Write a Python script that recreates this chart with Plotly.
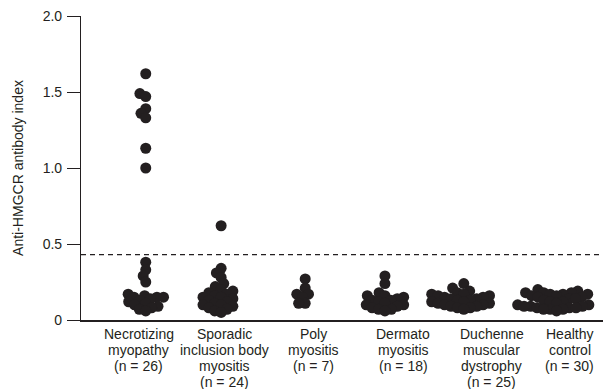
import math
import plotly.graph_objects as go

# ---- data ----
categories = [
    "Necrotizing<br>myopathy<br>(n = 26)",
    "Sporadic<br>inclusion body<br>myositis<br>(n = 24)",
    "Poly<br>myositis<br>(n = 7)",
    "Dermato<br>myositis<br>(n = 18)",
    "Duchenne<br>muscular<br>dystrophy<br>(n = 25)",
    "Healthy<br>control<br>(n = 30)",
]
necrotizing = [1.62, 1.49, 1.47, 1.39, 1.36, 1.33, 1.13, 1.00,
               0.38, 0.33, 0.29, 0.25,
               0.17, 0.16, 0.15, 0.15, 0.15, 0.14, 0.13, 0.12, 0.11, 0.10, 0.09, 0.08, 0.07, 0.06]
sporadic = [0.62, 0.34, 0.31, 0.28, 0.24, 0.22, 0.20, 0.19, 0.18, 0.17, 0.16, 0.15,
            0.15, 0.14, 0.13, 0.12, 0.11, 0.10, 0.10, 0.09, 0.08, 0.07, 0.06, 0.05]
poly = [0.27, 0.21, 0.17, 0.17, 0.15, 0.11, 0.11]
dermato = [0.29, 0.24, 0.18, 0.16, 0.16, 0.15, 0.14, 0.13, 0.13, 0.12, 0.11, 0.10,
           0.10, 0.09, 0.08, 0.07, 0.07, 0.06]
duchenne = [0.24, 0.21, 0.19, 0.18, 0.17, 0.17, 0.16, 0.16, 0.15, 0.15, 0.14, 0.14,
            0.13, 0.13, 0.12, 0.12, 0.11, 0.11, 0.10, 0.10, 0.09, 0.09, 0.08, 0.08, 0.07]
healthy = [0.20, 0.19, 0.18, 0.18, 0.18, 0.17, 0.17, 0.17, 0.16, 0.16, 0.15, 0.15,
           0.14, 0.14, 0.13, 0.12, 0.12, 0.11, 0.10, 0.10, 0.09, 0.09, 0.09, 0.08,
           0.08, 0.08, 0.07, 0.07, 0.07, 0.06]
groups = [necrotizing, sporadic, poly, dermato, duchenne, healthy]
cutoff = 0.43
y_ticks = [0, 0.5, 1.0, 1.5, 2.0]
y_tick_text = ["0", "0.5", "1.0", "1.5", "2.0"]

# ---- layout constants ----
W, H = 605, 389
ML, MR, MT, MB = 81, 2, 16, 69
label_pos = [0.0, 0.99, 2.02, 3.05, 4.07, 4.97]
cluster_pos = [0.08, 0.95, 1.92, 2.84, 3.75, 4.82]
x_range = [-0.667, 5.356]
y_range = [0, 2.0]
px_x = (W - ML - MR) / (x_range[1] - x_range[0])
px_y = (H - MT - MB) / (y_range[1] - y_range[0])
D = 6.6  # px spacing for swarm (dots overlap as in the reference)
LINE_H = 16  # px between category label lines
FIRST_LINE = 14  # px from axis to centre of first label line


def swarm(vals):
    order = sorted(range(len(vals)), key=lambda i: vals[i])
    placed = []
    offs = [0.0] * len(vals)
    for i in order:
        yi = vals[i] * px_y
        cands = [0.0]
        for (xj, yj) in placed:
            dy = yi - yj
            if abs(dy) < D:
                dx = math.sqrt(D * D - dy * dy)
                cands += [xj + dx, xj - dx]
        cands.sort(key=lambda c: (abs(c), c))
        for c in cands:
            if all((c - xj) ** 2 + (yi - yj) ** 2 >= D * D - 1e-6 for xj, yj in placed):
                placed.append((c, yi))
                offs[i] = c
                break
    return [o / px_x for o in offs]


fig = go.Figure()
for g, vals in enumerate(groups):
    offs = swarm(vals)
    fig.add_trace(go.Scatter(
        x=[cluster_pos[g] + o for o in offs], y=vals, mode="markers",
        marker=dict(size=11, color="#231f20", line=dict(width=0)),
        showlegend=False, hoverinfo="y"))

fig.add_shape(type="line", xref="paper", yref="y", x0=0, x1=1, y0=cutoff, y1=cutoff,
              line=dict(color="#231f20", width=1.2, dash="5px,4px"))

font = dict(family="Liberation Sans, Arial, sans-serif", size=14, color="#231f20")

# category labels, one annotation per line for tight line spacing
for pos, label in zip(label_pos, categories):
    for k, line in enumerate(label.split("<br>")):
        fig.add_annotation(x=pos, xref="x", y=0, yref="paper", text=line,
                           showarrow=False, xanchor="center", yanchor="middle",
                           yshift=-(FIRST_LINE + LINE_H * k), font=font)

fig.update_layout(
    width=W, height=H, margin=dict(l=ML, r=MR, t=MT, b=MB, autoexpand=False),
    paper_bgcolor="white", plot_bgcolor="white", font=font,
    xaxis=dict(range=x_range, tickvals=label_pos, showticklabels=False, showgrid=False,
               zeroline=False, showline=True, linecolor="#231f20", linewidth=1.5,
               ticks="", automargin=False),
    yaxis=dict(range=y_range, tickvals=y_ticks, ticktext=y_tick_text, showgrid=False,
               zeroline=False, showline=True, linecolor="#231f20", linewidth=1.2,
               ticks="outside", ticklen=13, tickwidth=1.2, tickcolor="#231f20",
               tickfont=font, automargin=False, ticklabelstandoff=2,
               title=dict(text="Anti-HMGCR antibody index", font=font, standoff=15)),
)
fig.write_html("out.html", config={"displayModeBar": False},
               post_script="document.body.style.margin='0';document.body.style.overflow='hidden';")
